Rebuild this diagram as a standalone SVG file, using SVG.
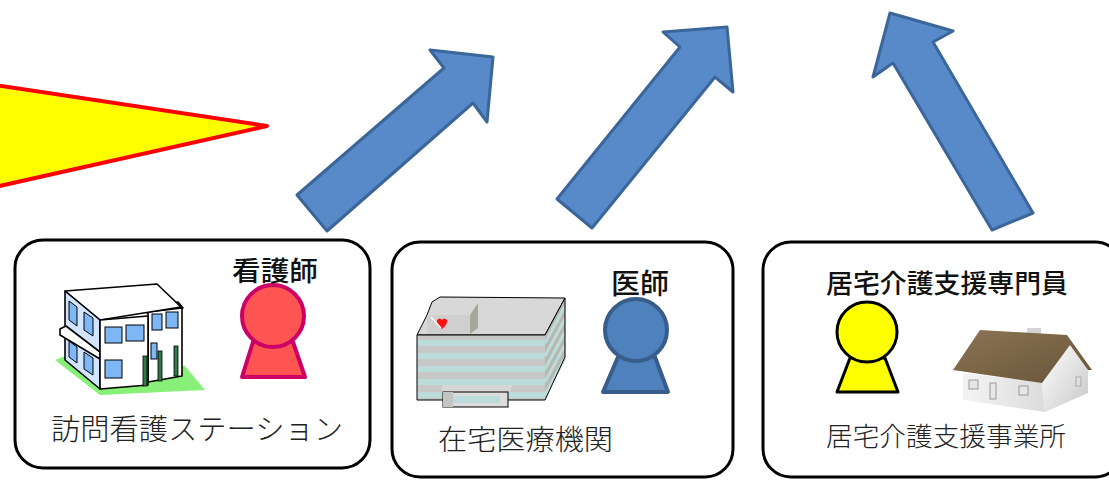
<svg xmlns="http://www.w3.org/2000/svg" width="1109" height="480" viewBox="0 0 1109 480">
  <style>
    .box { fill: #ffffff; stroke: #000000; stroke-width: 3; }
    .arrow { fill: #5889c9; stroke: #3b6699; stroke-width: 3; stroke-linejoin: round; }
    .role { font-family: "Noto Sans CJK JP", "Noto Sans", sans-serif; font-weight: 500; fill: #111111; }
    .place { font-family: "Noto Sans CJK JP", "Noto Sans", sans-serif; font-weight: 300; fill: #222222; }
    .win { fill: #7fb6f5; stroke: #000; stroke-width: 1; }
    .ln { stroke: #000; stroke-width: 1.6; stroke-linejoin: round; }
  </style>
  <defs>
    <linearGradient id="roofGrad" x1="0" y1="0" x2="1" y2="1">
      <stop offset="0" stop-color="#8a7454"/>
      <stop offset="1" stop-color="#6a5438"/>
    </linearGradient>
    <linearGradient id="wallGrad" x1="0" y1="0" x2="1" y2="0">
      <stop offset="0" stop-color="#f4f4f4"/>
      <stop offset="1" stop-color="#dcdcdc"/>
    </linearGradient>
    <linearGradient id="gableGrad" x1="0" y1="0" x2="1" y2="1">
      <stop offset="0" stop-color="#ffffff"/>
      <stop offset="1" stop-color="#c8c8c8"/>
    </linearGradient>
  </defs>

  <!-- Yellow pointer at left -->
  <polygon points="-5,85 267,126 -5,187" fill="#ffff00" stroke="#ff0000" stroke-width="4" stroke-linejoin="round"/>

  <!-- Connectors: block arrows rising from the three nodes -->
  <g id="connectors">
    <polygon class="arrow" points="297,195 444,68 430,50 493,57 487,122 473,103 327,231"/>
    <polygon class="arrow" points="557,199 680,47 663,32 727,27 733,92 715,77 592,228"/>
    <polygon class="arrow" points="992,230 893,63 873,77 890,13 953,31 933,42 1033,213"/>
  </g>

  <!-- Visiting nursing station -->
  <g id="node-nursing-station">
    <rect class="box" x="15" y="240" width="355" height="228" rx="28"/>
    <!-- building icon -->
    <g id="station-building">
      <polygon points="55,360 100,395 205,390 185,366 70,354" fill="#88f078"/>
      <!-- rear block -->
      <polygon class="ln" points="140,310 147,304 178,302 183,308 148,313" fill="#ffffff"/>
      <polygon class="ln" points="148,312 182,308 182,376 148,382" fill="#ffffff"/>
      <rect class="win" x="152" y="314" width="10" height="16"/>
      <rect class="win" x="166" y="312" width="12" height="16"/>
      <rect class="win" x="151" y="343" width="6" height="16"/>
      <rect x="174" y="346" width="4" height="30" fill="#2f7a4a" stroke="#000" stroke-width="0.8"/>
      <rect x="158" y="351" width="4" height="30" fill="#2f7a4a" stroke="#000" stroke-width="0.8"/>
      <!-- main block -->
      <polygon class="ln" points="65,291 157,284 181,307 100,320" fill="#ffffff"/>
      <polygon class="ln" points="65,291 100,320 100,389 65,360" fill="#d2e4ff"/>
      <polygon class="win" points="69,301 77,307 77,326 69,320"/>
      <polygon class="win" points="84,312 93,318 93,336 84,330"/>
      <polygon class="win" points="69,341 77,347 77,363 69,357"/>
      <polygon class="win" points="84,352 93,358 93,375 84,369"/>
      <polygon class="ln" points="60,329 66,326 100,352 100,359 60,335" fill="#ffffff"/>
      <polygon class="ln" points="100,320 148,316 148,385 100,389" fill="#ffffff"/>
      <rect class="win" x="105" y="327" width="17" height="16"/>
      <rect class="win" x="126" y="325" width="18" height="16"/>
      <rect class="win" x="105" y="360" width="17" height="18"/>
      <rect x="143" y="356" width="4" height="30" fill="#2f7a4a" stroke="#000" stroke-width="0.8"/>
    </g>
    <!-- nurse -->
    <g id="nurse-figure">
      <polygon points="253,342 293,342 305,377 242,377" fill="#ff5552" stroke="#cc0066" stroke-width="4" stroke-linejoin="round"/>
      <circle cx="273" cy="316" r="31" fill="#ff5552" stroke="#cc0066" stroke-width="4"/>
    </g>
    <text class="role" x="232" y="281" font-size="27" textLength="86" lengthAdjust="spacingAndGlyphs">看護師</text>
    <text class="place" x="51" y="440" font-size="29" textLength="292" lengthAdjust="spacingAndGlyphs">訪問看護ステーション</text>
  </g>

  <!-- Home medical institution -->
  <g id="node-medical-institution">
    <rect class="box" x="392" y="242" width="341" height="235" rx="28"/>
    <g id="hospital-building">
      <!-- roof -->
      <polygon points="417,335 427,315 432,302 440,297 565,298 545,335" fill="#d8d8d8" stroke="#000" stroke-width="1"/>
      <polygon points="427,315 470,315 470,334 427,334" fill="#cfcfcf"/>
      <polygon points="470,315 478,303 478,328 470,334" fill="#a8a89a"/>
      <path d="M437,320 q3,-3 5,0 q2,-3 5,0 q1,4 -5,9 q-6,-5 -5,-9 z" fill="#ff1010"/>
      <line x1="431" y1="317" x2="441" y2="328" stroke="#ffffff" stroke-width="1.2"/>
      <!-- front face with bands -->
      <rect x="417" y="335" width="128" height="65" fill="#c8c8c8"/>
      <rect x="417" y="340" width="128" height="6" fill="#bcdcdc"/>
      <rect x="417" y="353" width="128" height="6" fill="#bcdcdc"/>
      <rect x="417" y="366" width="128" height="6" fill="#bcdcdc"/>
      <rect x="417" y="379" width="128" height="6" fill="#bcdcdc"/>
      <rect x="417" y="392" width="128" height="6" fill="#bcdcdc"/>
      <!-- side face -->
      <polygon points="545,335 565,298 565,357 545,400" fill="#b8b8b0"/>
      <g stroke="#bcdcdc" stroke-width="3">
        <line x1="545" y1="343" x2="565" y2="306"/>
        <line x1="545" y1="356" x2="565" y2="319"/>
        <line x1="545" y1="369" x2="565" y2="332"/>
        <line x1="545" y1="382" x2="565" y2="345"/>
        <line x1="545" y1="395" x2="565" y2="358"/>
      </g>
      <polygon points="417,335 545,335 565,298 565,357 545,400 417,400" fill="none" stroke="#000" stroke-width="1"/>
      <!-- entrance canopy -->
      <polygon points="442,385 513,385 510,392 442,392" fill="#d6d6d6"/>
      <rect x="443" y="392" width="65" height="15" fill="#dcdcdc" stroke="#000" stroke-width="1"/>
      <rect x="452" y="396" width="48" height="7" fill="#bcdcdc"/>
      <rect x="443" y="392" width="10" height="15" fill="#c4c4c4"/>
    </g>
    <!-- doctor -->
    <g id="doctor-figure">
      <polygon points="618,357 655,357 668,392 603,392" fill="#4f81bd" stroke="#385d8a" stroke-width="4" stroke-linejoin="round"/>
      <circle cx="636" cy="330" r="31" fill="#4f81bd" stroke="#385d8a" stroke-width="4"/>
    </g>
    <text class="role" x="611" y="294" font-size="28" textLength="58" lengthAdjust="spacingAndGlyphs">医師</text>
    <text class="place" x="438" y="450" font-size="28" textLength="175" lengthAdjust="spacingAndGlyphs">在宅医療機関</text>
  </g>

  <!-- Home care support office -->
  <g id="node-care-support-office">
    <rect class="box" x="763" y="242" width="360" height="235" rx="28"/>
    <!-- care manager -->
    <g id="care-manager-figure">
      <polygon points="850,358 885,358 898,392 837,392" fill="#ffff00" stroke="#000" stroke-width="3" stroke-linejoin="round"/>
      <circle cx="867" cy="332" r="30" fill="#ffff00" stroke="#000" stroke-width="3"/>
    </g>
    <!-- house icon -->
    <g id="office-house">
      <polygon points="963,373 1042,382 1045,412 963,400" fill="url(#wallGrad)"/>
      <polygon points="1042,382 1070,343 1088,370 1088,393 1045,412" fill="url(#gableGrad)"/>
      <rect x="1027" y="328" width="14" height="16" fill="#d4d4d4"/>
      <polygon points="953,370 980,330 1067,335 1092,370 1088,370 1070,345 1042,383" fill="url(#roofGrad)"/>
      <rect x="969" y="380" width="9" height="9" fill="#e6e6e6" stroke="#999" stroke-width="1"/>
      <rect x="990" y="383" width="6" height="16" fill="#e6e6e6" stroke="#999" stroke-width="1"/>
      <rect x="1019" y="386" width="9" height="9" fill="#e6e6e6" stroke="#999" stroke-width="1"/>
      <rect x="1076" y="377" width="5" height="9" fill="#e0e0e0" stroke="#aaa" stroke-width="1"/>
    </g>
    <text class="role" x="826" y="293" font-size="26" textLength="242" lengthAdjust="spacingAndGlyphs">居宅介護支援専門員</text>
    <text class="place" x="826" y="446" font-size="26" textLength="240" lengthAdjust="spacingAndGlyphs">居宅介護支援事業所</text>
  </g>
</svg>
